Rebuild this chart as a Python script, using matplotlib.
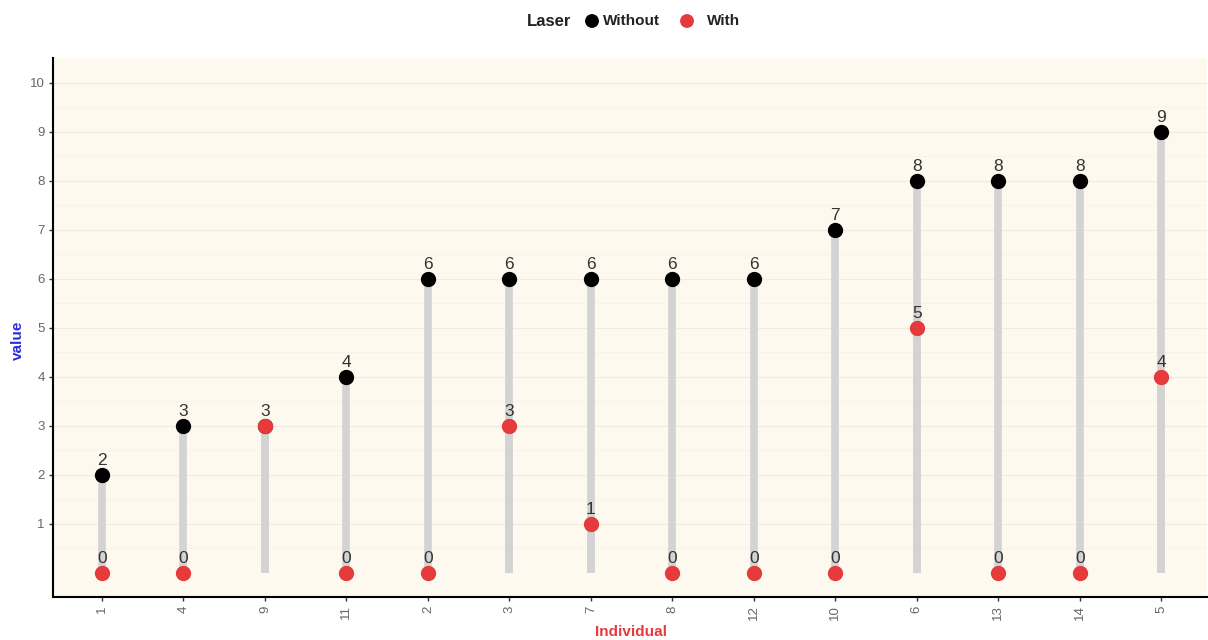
import matplotlib
matplotlib.use("Agg")
import matplotlib.pyplot as plt

plt.rcParams["font.family"] = ["Liberation Sans", "DejaVu Sans"]

individuals = ["1", "4", "9", "11", "2", "3", "7", "8", "12", "10", "6", "13", "14", "5"]
without_vals = [2, 3, 3, 4, 6, 6, 6, 6, 6, 7, 8, 8, 8, 9]
with_vals = [0, 0, 3, 0, 0, 3, 1, 0, 0, 0, 5, 0, 0, 4]
y_ticks = [1, 2, 3, 4, 5, 6, 7, 8, 9, 10]
legend_labels = ["Without", "With"]

W, H = 1208, 640
fig = plt.figure(figsize=(W / 100, H / 100), dpi=100)
ax = fig.add_axes([53 / W, 43 / H, (1207 - 53) / W, (597 - 58) / H])
bg = "#fdf9ee"
ax.set_facecolor(bg)

x = list(range(len(individuals)))

# grid
for yv in y_ticks:
    ax.axhline(yv, color="#f0ebdf", lw=0.8, zorder=0)
for yv in [v + 0.5 for v in range(0, 10)]:
    ax.axhline(yv, color="#f7f3e8", lw=0.6, zorder=0)

# segments from 0 to values
seg_col = "#d3d3d3"
for xi, wv, rv in zip(x, without_vals, with_vals):
    ax.plot([xi, xi], [0, wv], color=seg_col, lw=5.5, solid_capstyle="butt", zorder=1)
    ax.plot([xi, xi], [0, rv], color=seg_col, lw=5.5, solid_capstyle="butt", zorder=1)

black = "#000000"
red = "#e63a3c"
ax.scatter(x, without_vals, s=100, color=black, zorder=3)
ax.scatter(x, with_vals, s=100, color=red, zorder=4)

for xi, wv, rv in zip(x, without_vals, with_vals):
    if wv != rv:
        ax.text(xi, wv + 0.14, str(wv), ha="center", va="bottom", fontsize=12.5, color="#333333", zorder=5)
    ax.text(xi, rv + 0.14, str(rv), ha="center", va="bottom", fontsize=12.5, color="#333333", zorder=5)

ax.set_xlim(-0.6, len(individuals) - 1 + 0.56)
ax.set_ylim(-0.5, 10.5)
ax.set_xticks(x)
ax.set_xticklabels(individuals, rotation=90, fontsize=9.5, color="#666666")
ax.set_yticks(y_ticks)
ax.set_yticklabels([str(v) for v in y_ticks], fontsize=9.5, color="#666666")
ax.tick_params(axis="both", length=3, width=1, color="#333333", pad=3)

for s in ["top", "right"]:
    ax.spines[s].set_visible(False)
for s in ["left", "bottom"]:
    ax.spines[s].set_color("black")
    ax.spines[s].set_linewidth(1.5)

fig.text(631 / W, 1 - 632 / H, "Individual", color=red, fontsize=11, fontweight="bold",
         ha="center", va="center")
fig.text(18 / W, 1 - 340 / H, "value", color="#2b2bdd", fontsize=11, fontweight="bold",
         ha="center", va="center", rotation=90)

# legend (manual, horizontal with inline title)
ly = 1 - 21 / H
fig.text(549 / W, ly, "Laser", fontsize=12, fontweight="bold", color="#222222", ha="center", va="center")
lax = fig.add_axes([0, 0, 1, 1], facecolor="none")
lax.set_xlim(0, W)
lax.set_ylim(H, 0)
lax.axis("off")
lax.scatter([592, 687], [21, 21], s=80, color=[black, red])
fig.text(603 / W, ly, legend_labels[0], fontsize=11, fontweight="bold", color="#222222", ha="left", va="center")
fig.text(707 / W, ly, legend_labels[1], fontsize=11, fontweight="bold", color="#222222", ha="left", va="center")

fig.savefig("out.png", dpi=100, facecolor="white")
